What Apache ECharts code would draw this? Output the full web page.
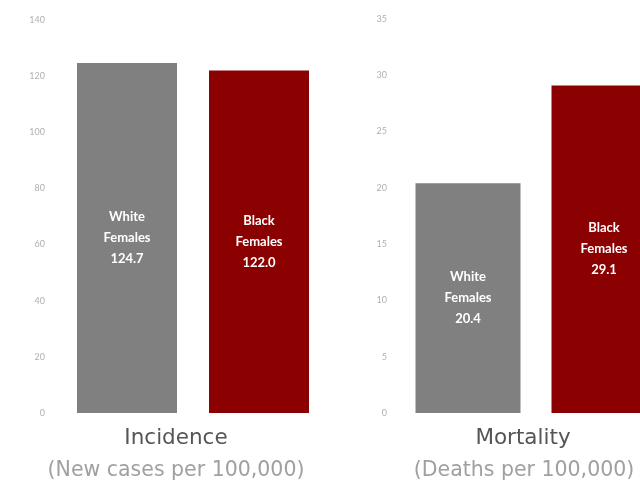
<!DOCTYPE html>
<html><head><meta charset="utf-8">
<script src="https://cdn.jsdelivr.net/npm/echarts@6/dist/echarts.min.js"></script>
<style>html,body{margin:0;padding:0;background:#fff}#c{width:640px;height:483px}</style>
</head><body><div id="c"></div>
<script>
const groups = ['White Females', 'Black Females'];
const incidence = [124.7, 122.0];
const mortality = [20.4, 29.1];
const incidenceTicks = [0, 20, 40, 60, 80, 100, 120, 140];
const mortalityTicks = [0, 5, 10, 15, 20, 25, 30, 35];
const colors = ['#808080', '#8B0000'];

const chart = echarts.init(document.getElementById('c'), null, {renderer: 'canvas'});
function mkData(vals) {
  return vals.map((v, i) => ({value: v, itemStyle: {color: colors[i]}}));
}
const lbl = {
  show: true, position: 'inside', color: '#fff', fontFamily: 'Lato', fontWeight: 'bold',
  fontSize: 13, lineHeight: 21,
  formatter: p => p.name.replace(' ', '\n') + '\n' + p.value.toFixed(1)
};
const yBase = {
  type: 'value', min: 0,
  axisLine: {show: false}, axisTick: {show: false}, splitLine: {show: false},
  axisLabel: {color: '#b0b0b0', fontSize: 9, fontFamily: 'Lato'}
};
chart.setOption({
  animation: false,
  grid: [
    {left: 61, width: 264, top: 20, height: 393, outerBoundsMode: 'none', containLabel: false},
    {left: 400, width: 272, top: 19, height: 394, outerBoundsMode: 'none', containLabel: false}
  ],
  xAxis: [
    {type: 'category', gridIndex: 0, data: groups, show: false},
    {type: 'category', gridIndex: 1, data: groups, show: false}
  ],
  yAxis: [
    Object.assign({}, yBase, {gridIndex: 0, max: incidenceTicks[incidenceTicks.length-1], interval: 20,
      axisLabel: Object.assign({}, yBase.axisLabel, {margin: 16})}),
    Object.assign({}, yBase, {gridIndex: 1, max: mortalityTicks[mortalityTicks.length-1], interval: 5,
      axisLabel: Object.assign({}, yBase.axisLabel, {margin: 13})})
  ],
  series: [
    {type: 'bar', xAxisIndex: 0, yAxisIndex: 0, barWidth: 100, data: mkData(incidence), label: lbl},
    {type: 'bar', xAxisIndex: 1, yAxisIndex: 1, barWidth: 105, data: mkData(mortality), label: lbl}
  ],
  graphic: [
    {type: 'text', x: 176, y: 438, style: {text: 'Incidence', fill: '#555', font: '21.5px "DejaVu Sans"', textAlign: 'center', textVerticalAlign: 'middle'}},
    {type: 'text', x: 176, y: 471, style: {text: '(New cases per 100,000)', fill: '#a0a0a0', font: '20.5px "DejaVu Sans"', textAlign: 'center', textVerticalAlign: 'middle'}},
    {type: 'text', x: 523, y: 438, style: {text: 'Mortality', fill: '#555', font: '21.5px "DejaVu Sans"', textAlign: 'center', textVerticalAlign: 'middle'}},
    {type: 'text', x: 524, y: 471, style: {text: '(Deaths per 100,000)', fill: '#a0a0a0', font: '20.5px "DejaVu Sans"', textAlign: 'center', textVerticalAlign: 'middle'}}
  ]
});
</script></body></html>
